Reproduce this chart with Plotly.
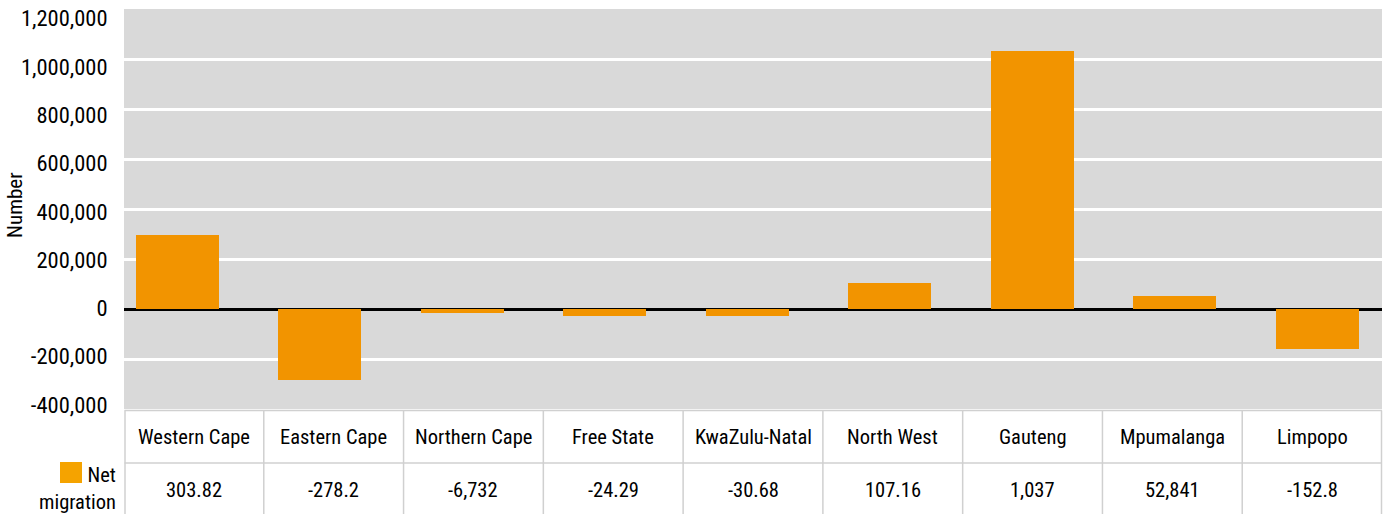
import plotly.graph_objects as go

categories = ["Western Cape", "Eastern Cape", "Northern Cape", "Free State",
              "KwaZulu-Natal", "North West", "Gauteng", "Mpumalanga", "Limpopo"]
net_migration = [296000, -284000, -16000, -28000, -28000, 106000, 1032000, 51000, -161000]
table_labels = ["303.82", "-278.2", "-6,732", "-24.29", "-30.68", "107.16", "1,037", "52,841", "-152.8"]
series_name = "Net<br>migration"
y_ticks = [-400000, -200000, 0, 200000, 400000, 600000, 800000, 1000000, 1200000]
y_tick_labels = ["-400,000", "-200,000", "0", "200,000", "400,000", "600,000",
                 "800,000", "1,000,000", "1,200,000"]

FONT = "Roboto Condensed, Roboto, sans-serif"
BAR = "#F29400"
GRID_BORDER = "#D0D0D0"

W, H = 1387, 514
ML, MR, MT, MB = 124, 5, 9, 105
PW = W - ML - MR
PH = H - MT - MB

def px_x(px):
    return (px - ML) / PW

def px_y(py):
    return (H - MB - py) / PH

fig = go.Figure()
fig.add_trace(go.Bar(
    x=categories, y=net_migration, marker_color=BAR, width=0.582,
    marker_line_width=0, showlegend=False, name="Net migration",
))
# invisible carrier so the label axis (slightly compressed, as in the original) is drawn
fig.add_trace(go.Scatter(
    x=categories[:1], y=[0], yaxis="y2", mode="markers",
    marker=dict(opacity=0), showlegend=False, hoverinfo="skip",
))

shapes = []
annotations = []
n = len(categories)
y_top = px_y(410.5)
y_mid = px_y(463)
y_bot = px_y(516)
line = dict(color=GRID_BORDER, width=1.5)
shapes.append(dict(type="line", xref="paper", yref="paper", x0=px_x(124.5), x1=1, y0=y_top, y1=y_top, line=line))
shapes.append(dict(type="line", xref="paper", yref="paper", x0=px_x(124.5), x1=1, y0=y_mid, y1=y_mid, line=line))
for i in range(n + 1):
    xx = i / n if i > 0 else px_x(125)
    if i == n:
        xx = px_x(1381.5)
    shapes.append(dict(type="line", xref="paper", yref="paper", x0=xx, x1=xx, y0=y_top, y1=y_bot, line=line))
TFS = 20.5
for i, (c, v) in enumerate(zip(categories, table_labels)):
    annotations.append(dict(xref="paper", yref="paper", x=(i + 0.5) / n, y=px_y(437), text=c,
                            showarrow=False, font=dict(family=FONT, size=TFS, color="#000"),
                            xanchor="center", yanchor="middle"))
    annotations.append(dict(xref="paper", yref="paper", x=(i + 0.5) / n, y=px_y(490), text=v,
                            showarrow=False, font=dict(family=FONT, size=TFS, color="#000"),
                            xanchor="center", yanchor="middle"))
# legend key
shapes.append(dict(type="rect", xref="paper", yref="paper", x0=px_x(60), x1=px_x(82),
                   y0=px_y(483), y1=px_y(462), fillcolor="#F5A300", line=dict(width=0)))
annotations.append(dict(xref="paper", yref="paper", x=px_x(118), y=px_y(488), text=series_name,
                        showarrow=False, align="right", xanchor="right", yanchor="middle",
                        font=dict(family=FONT, size=TFS, color="#000")))
# y axis title
annotations.append(dict(xref="paper", yref="paper", x=px_x(15), y=px_y(205), text="Number",
                        showarrow=False, textangle=-90, xanchor="center", yanchor="middle",
                        font=dict(family=FONT, size=21, color="#000")))

fig.update_layout(
    width=W, height=H,
    margin=dict(l=ML, r=MR, t=MT, b=MB, autoexpand=False),
    paper_bgcolor="white", plot_bgcolor="#D9D9D9",
    font=dict(family=FONT, size=21, color="#000"),
    bargap=0,
    shapes=shapes, annotations=annotations,
    xaxis=dict(type="category", range=[-0.375, 8.453], showticklabels=False,
               showgrid=False, zeroline=False, ticks="", automargin=False),
    yaxis=dict(range=[-400000, 1200000], tickvals=y_ticks, showticklabels=False,
               showgrid=True, gridcolor="white", gridwidth=2.5, automargin=False,
               zeroline=True, zerolinecolor="#000", zerolinewidth=3, ticks=""),
    yaxis2=dict(overlaying="y", side="left", range=[-417000, 1239400],
                tickvals=y_ticks, ticktext=y_tick_labels, showgrid=False, zeroline=False,
                automargin=False, ticklabeloverflow="allow",
                ticks="outside", ticklen=11, tickcolor="rgba(0,0,0,0)",
                tickfont=dict(family=FONT, size=22.5, color="#000")),
)

fig.write_html("out.html", config={"displayModeBar": False},
               post_script="document.body.style.margin='0';document.body.style.overflow='hidden';")
